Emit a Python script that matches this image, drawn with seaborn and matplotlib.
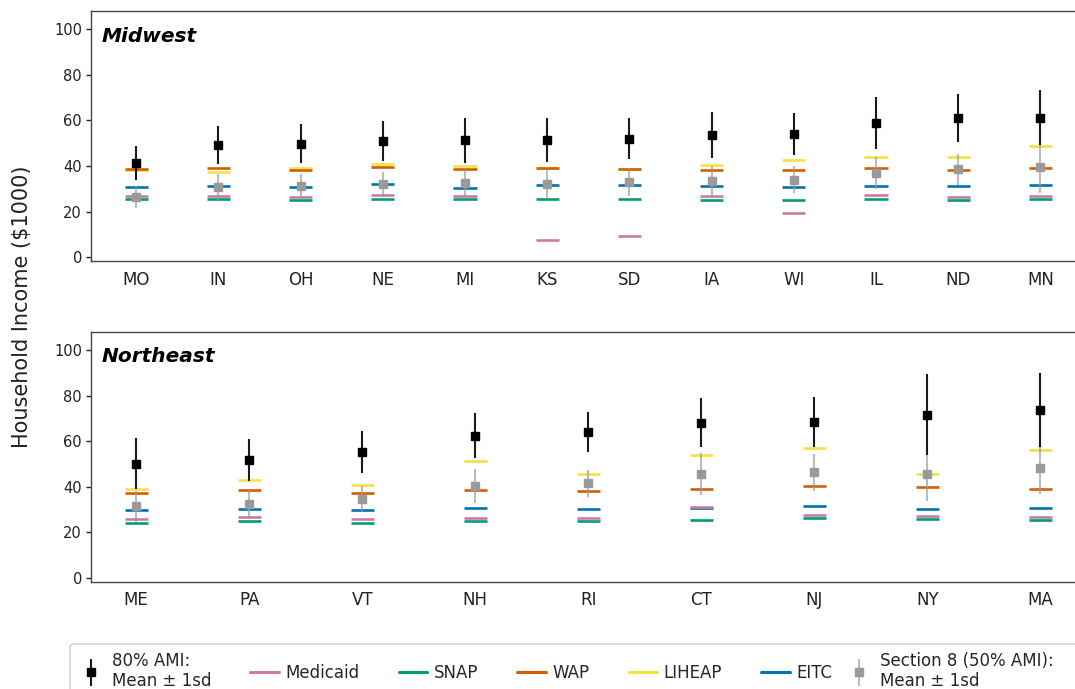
import matplotlib
matplotlib.use("Agg")
import matplotlib.pyplot as plt
from matplotlib.lines import Line2D
from matplotlib.patches import FancyBboxPatch
from matplotlib.container import ErrorbarContainer
from matplotlib.legend_handler import HandlerErrorbar
import numpy as np
import pandas as pd
import seaborn as sns

# ---------------- data ($1000) ----------------
mw_states = ["MO", "IN", "OH", "NE", "MI", "KS", "SD", "IA", "WI", "IL", "ND", "MN"]
mw_ami_mean = [41.4, 49.4, 49.9, 50.9, 51.3, 51.5, 52.0, 53.6, 54.1, 58.8, 61.2, 61.3]
mw_ami_sd = [7.6, 8.3, 8.5, 8.7, 10.0, 9.8, 8.9, 10.0, 9.4, 11.4, 10.5, 12.2]
mw_s8_mean = [26.4, 30.7, 31.3, 32.0, 32.5, 32.2, 32.9, 33.6, 34.0, 37.0, 38.6, 39.7]
mw_s8_sd = [4.8, 5.7, 5.2, 5.4, 6.1, 6.3, 5.8, 6.6, 6.0, 7.0, 6.8, 11.5]
mw_medicaid = [26.7, 27.0, 26.5, 27.2, 27.0, 7.8, 9.3, 26.7, 19.3, 27.2, 26.5, 27.1]
mw_snap = [25.4, 25.5, 25.1, 25.8, 25.4, 25.7, 25.5, 25.2, 25.1, 25.8, 25.0, 25.5]
mw_wap = [38.6, 39.1, 38.5, 39.4, 38.7, 39.1, 38.7, 38.4, 38.3, 39.3, 38.1, 39.1]
mw_liheap = [38.2, 37.5, 39.0, 41.0, 40.1, 39.1, 38.7, 40.7, 42.5, 44.1, 44.2, 48.8]
mw_eitc = [31.0, 31.3, 30.7, 32.2, 30.6, 31.7, 31.6, 31.4, 31.0, 31.2, 31.2, 31.6]

ne_states = ["ME", "PA", "VT", "NH", "RI", "CT", "NJ", "NY", "MA"]
ne_ami_mean = [50.2, 51.7, 55.3, 62.4, 63.9, 68.1, 68.3, 71.6, 73.8]
ne_ami_sd = [11.1, 9.3, 9.3, 9.9, 8.7, 10.8, 11.0, 17.8, 16.3]
ne_s8_mean = [31.4, 32.3, 34.6, 40.3, 41.6, 45.7, 46.3, 45.6, 48.3]
ne_s8_sd = [6.8, 6.3, 5.8, 7.3, 5.9, 9.3, 8.2, 11.8, 11.3]
ne_medicaid = [25.8, 26.6, 25.8, 26.5, 26.3, 31.1, 27.8, 27.4, 26.9]
ne_snap = [24.3, 25.0, 24.2, 25.0, 24.8, 25.3, 26.3, 25.8, 25.3]
ne_wap = [37.3, 38.4, 37.1, 38.4, 38.1, 38.9, 40.3, 39.7, 39.0]
ne_liheap = [39.0, 42.9, 40.6, 51.5, 45.7, 54.0, 57.2, 45.7, 56.3]
ne_eitc = [30.0, 30.4, 29.7, 30.6, 30.3, 30.9, 31.7, 30.4, 30.7]

programs = ["Medicaid", "SNAP", "WAP", "LIHEAP", "EITC"]
program_colors = {
    "Medicaid": "#CC79A7",
    "SNAP": "#009E73",
    "WAP": "#D55E00",
    "LIHEAP": "#F0E442",
    "EITC": "#0072B2",
}
# drawing order of the threshold ticks (later ones sit on top)
draw_order = ["EITC", "LIHEAP", "SNAP", "WAP", "Medicaid"]

ami_label = "80% AMI:\nMean \u00b1 1sd"
s8_label = "Section 8 (50% AMI):\nMean \u00b1 1sd"

# ---------------- style ----------------
sns.set_theme(style="ticks")
plt.rcParams["font.family"] = ["DejaVu Sans"]
plt.rcParams["axes.edgecolor"] = "#444444"
plt.rcParams["axes.linewidth"] = 1.0

W, H = 1075, 689
fig = plt.figure(figsize=(W / 100, H / 100), dpi=100)
left, width = 91 / W, 994.6 / W
ax_top = fig.add_axes([left, 1 - 261 / H, width, 250 / H])
ax_bot = fig.add_axes([left, 1 - 581.7 / H, width, 250 / H])


def draw_panel(ax, title, states, ami_mean, ami_sd, s8_mean, s8_sd, prog_values):
    rows = []
    for prog in draw_order:
        for st, v in zip(states, prog_values[prog]):
            rows.append((st, prog, v))
    df = pd.DataFrame(rows, columns=["state", "program", "income"])

    sns.scatterplot(data=df, x="state", y="income", hue="program",
                    palette=program_colors, marker="_", s=275, linewidth=1.9,
                    legend=False, ax=ax, zorder=2)

    s8 = ax.errorbar(states, s8_mean, yerr=s8_sd, fmt="s", color="#9a9a9a",
                     ms=5.5, ecolor=(0.6, 0.6, 0.6, 0.65), elinewidth=1.5,
                     capsize=0, zorder=3, label=s8_label)
    ami = ax.errorbar(states, ami_mean, yerr=ami_sd, fmt="s", color="black",
                      ms=5.5, ecolor="#1a1a1a", elinewidth=1.5, capsize=0,
                      zorder=4, label=ami_label)

    n = len(states)
    ax.set_xlim(-0.05 * (n - 1), (n - 1) * 1.05)
    ax.set_ylim(-1.6, 108)
    ax.set_yticks([0, 20, 40, 60, 80, 100])
    ax.set_xlabel("")
    ax.set_ylabel("")
    ax.tick_params(axis="x", length=0, pad=7, labelsize=12, colors="#222222")
    ax.tick_params(axis="y", length=3.4, width=1, pad=3, labelsize=10.5,
                   colors="#222222")
    for sp in ax.spines.values():
        sp.set_visible(True)
        sp.set_color("#444444")
    ax.text(0.0108, 0.877, title, transform=ax.transAxes, fontsize=14.5,
            fontweight="bold", fontstyle="italic", va="baseline", ha="left",
            color="black")
    return ami, s8


ami_h, s8_h = draw_panel(ax_top, "Midwest", mw_states, mw_ami_mean, mw_ami_sd,
                         mw_s8_mean, mw_s8_sd,
                         {"Medicaid": mw_medicaid, "SNAP": mw_snap, "WAP": mw_wap,
                          "LIHEAP": mw_liheap, "EITC": mw_eitc})
draw_panel(ax_bot, "Northeast", ne_states, ne_ami_mean, ne_ami_sd,
           ne_s8_mean, ne_s8_sd,
           {"Medicaid": ne_medicaid, "SNAP": ne_snap, "WAP": ne_wap,
            "LIHEAP": ne_liheap, "EITC": ne_eitc})

fig.text(22 / W, 1 - 306.5 / H, "Household Income ($1000)", rotation=90,
         fontsize=15, ha="center", va="center", color="#222222")

# ---------------- legend along the bottom edge ----------------
frame = FancyBboxPatch((0.70, -0.30), 10.6, 0.75,
                       boxstyle="round,pad=0,rounding_size=0.04",
                       transform=fig.dpi_scale_trans, facecolor="white",
                       edgecolor="#cccccc", linewidth=1.0, zorder=0)
fig.add_artist(frame)

handles = [ami_h]
labels = [ami_label]
for prog in programs:
    handles.append(Line2D([], [], color=program_colors[prog], lw=2.2))
    labels.append(prog)

leg_kw = dict(loc="upper left", bbox_transform=fig.transFigure, fontsize=12,
              frameon=False, handlelength=1.7, handletextpad=0.4,
              borderpad=0.4, borderaxespad=0, labelspacing=0.3,
              handler_map={ErrorbarContainer: HandlerErrorbar(yerr_size=0.8)})

fig.legend(handles, labels, bbox_to_anchor=(70 / W, 1 - 645 / H), ncol=6,
           columnspacing=2.35, **leg_kw)
fig.legend([s8_h], [s8_label], bbox_to_anchor=(838 / W, 1 - 645 / H),
           ncol=1, **leg_kw)

fig.savefig("out.png", dpi=100)
